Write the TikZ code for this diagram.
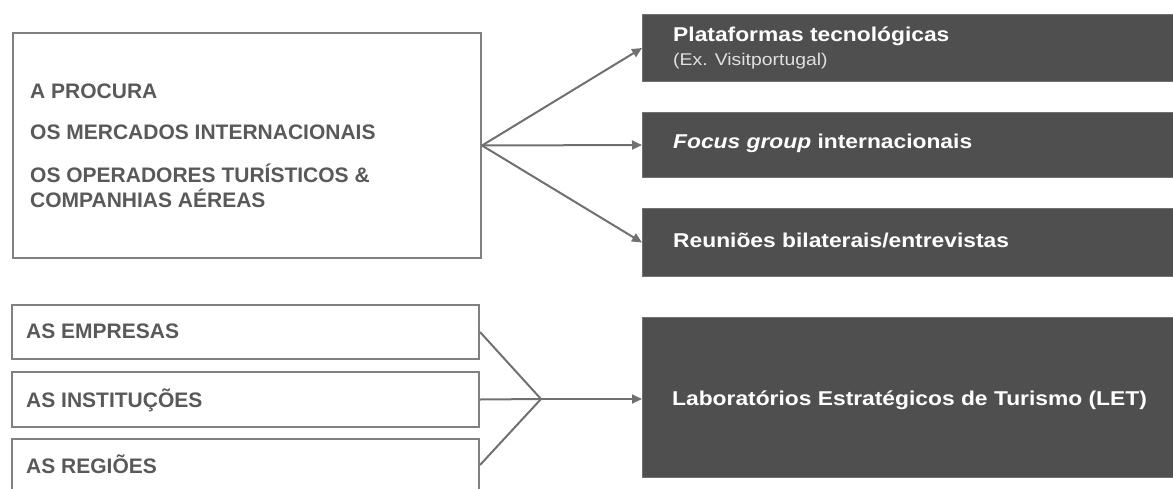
\documentclass[tikz,border=0pt]{standalone}
\usepackage{fontspec}
\setmainfont{Liberation Sans}
\newfontfamily\rfont[FakeStretch=1.14]{Liberation Sans}
\usetikzlibrary{arrows.meta}
\definecolor{boxline}{HTML}{808080}
\definecolor{txtgray}{HTML}{595959}
\definecolor{darkbox}{HTML}{4F4F4F}
\definecolor{arrgray}{HTML}{707070}
\tikzset{
  lbox/.style={draw=boxline, line width=2pt, fill=white, rectangle, inner sep=0pt, anchor=north west},
  dbox/.style={fill=darkbox, draw=darkbox!80!white, line width=1pt, rectangle, inner sep=0pt, anchor=north west},
  ltxt/.style={anchor=base west, inner sep=0pt, text=txtgray, font=\fontsize{21}{25}\selectfont\bfseries, align=left},
  rtxt/.style={anchor=base west, inner sep=0pt, text=white, font=\rfont\fontsize{20}{24}\selectfont\bfseries},
  stxt/.style={anchor=base west, inner sep=0pt, text=white!88!black, font=\rfont\fontsize{17}{20}\selectfont},
  conn/.style={draw=arrgray, line width=2pt},
  arr/.style={conn, -{Triangle[length=10pt,width=9pt]}}
}
\begin{document}
\begin{tikzpicture}[x=1pt,y=-1pt]
\useasboundingbox (0,0) rectangle (1173,488);
\clip (0,0) rectangle (1173,488);
% left boxes
\node[lbox, minimum width=468pt, minimum height=225pt] (procura) at (12,32) {};
\node[lbox, minimum width=467pt, minimum height=54pt] (emp) at (11,304) {};
\node[lbox, minimum width=467pt, minimum height=55pt] (inst) at (11,371) {};
\node[lbox, minimum width=467pt, minimum height=52pt] (reg) at (11,438) {};
% left texts
\node[ltxt] (t1) at (30,98) {A PROCURA};
\node[ltxt] (t2) at (30,139) {OS MERCADOS INTERNACIONAIS};
\node[ltxt] (t3) at (30,182) {OS OPERADORES TURÍSTICOS \&};
\node[ltxt] (t4) at (30,207) {COMPANHIAS AÉREAS};
\node[ltxt] (t5) at (26,338) {AS EMPRESAS};
\node[ltxt] (t6) at (26,407) {AS INSTITUÇÕES};
\node[ltxt] (t7) at (26,473) {AS REGIÕES};
% right dark boxes
\node[dbox, minimum width=560pt, minimum height=67pt] (plat) at (642,14) {};
\node[dbox, minimum width=560pt, minimum height=65pt] (focus) at (642,112) {};
\node[dbox, minimum width=560pt, minimum height=68pt] (reun) at (642,208) {};
\node[dbox, minimum width=560pt, minimum height=160pt] (let) at (642,317) {};
% right texts
\node[rtxt] (r1) at (673,41) {Plataformas tecnológicas};
\node[stxt] (r1b) at (673,65) {(Ex. Visitportugal)};
\node[rtxt] (r2) at (673,148) {\textit{Focus group} internacionais};
\node[rtxt] (r3) at (673,247) {Reuniões bilaterais/entrevistas};
\node[rtxt] (r4) at (672,405) {Laboratórios Estratégicos de Turismo (LET)};
% connectors top
\draw[arr] (procura.east) -- (plat.west);
\draw[arr] (procura.east) -- (focus.west);
\draw[arr] (procura.east) -- (reun.west);
% connectors bottom
\coordinate (conv) at (541,399);
\draw[conn] (emp.east) -- (conv);
\draw[conn] (inst.east) -- (conv);
\draw[conn] (reg.east) -- (conv);
\draw[arr] (conv) -- (conv -| let.west);
\end{tikzpicture}
\end{document}
